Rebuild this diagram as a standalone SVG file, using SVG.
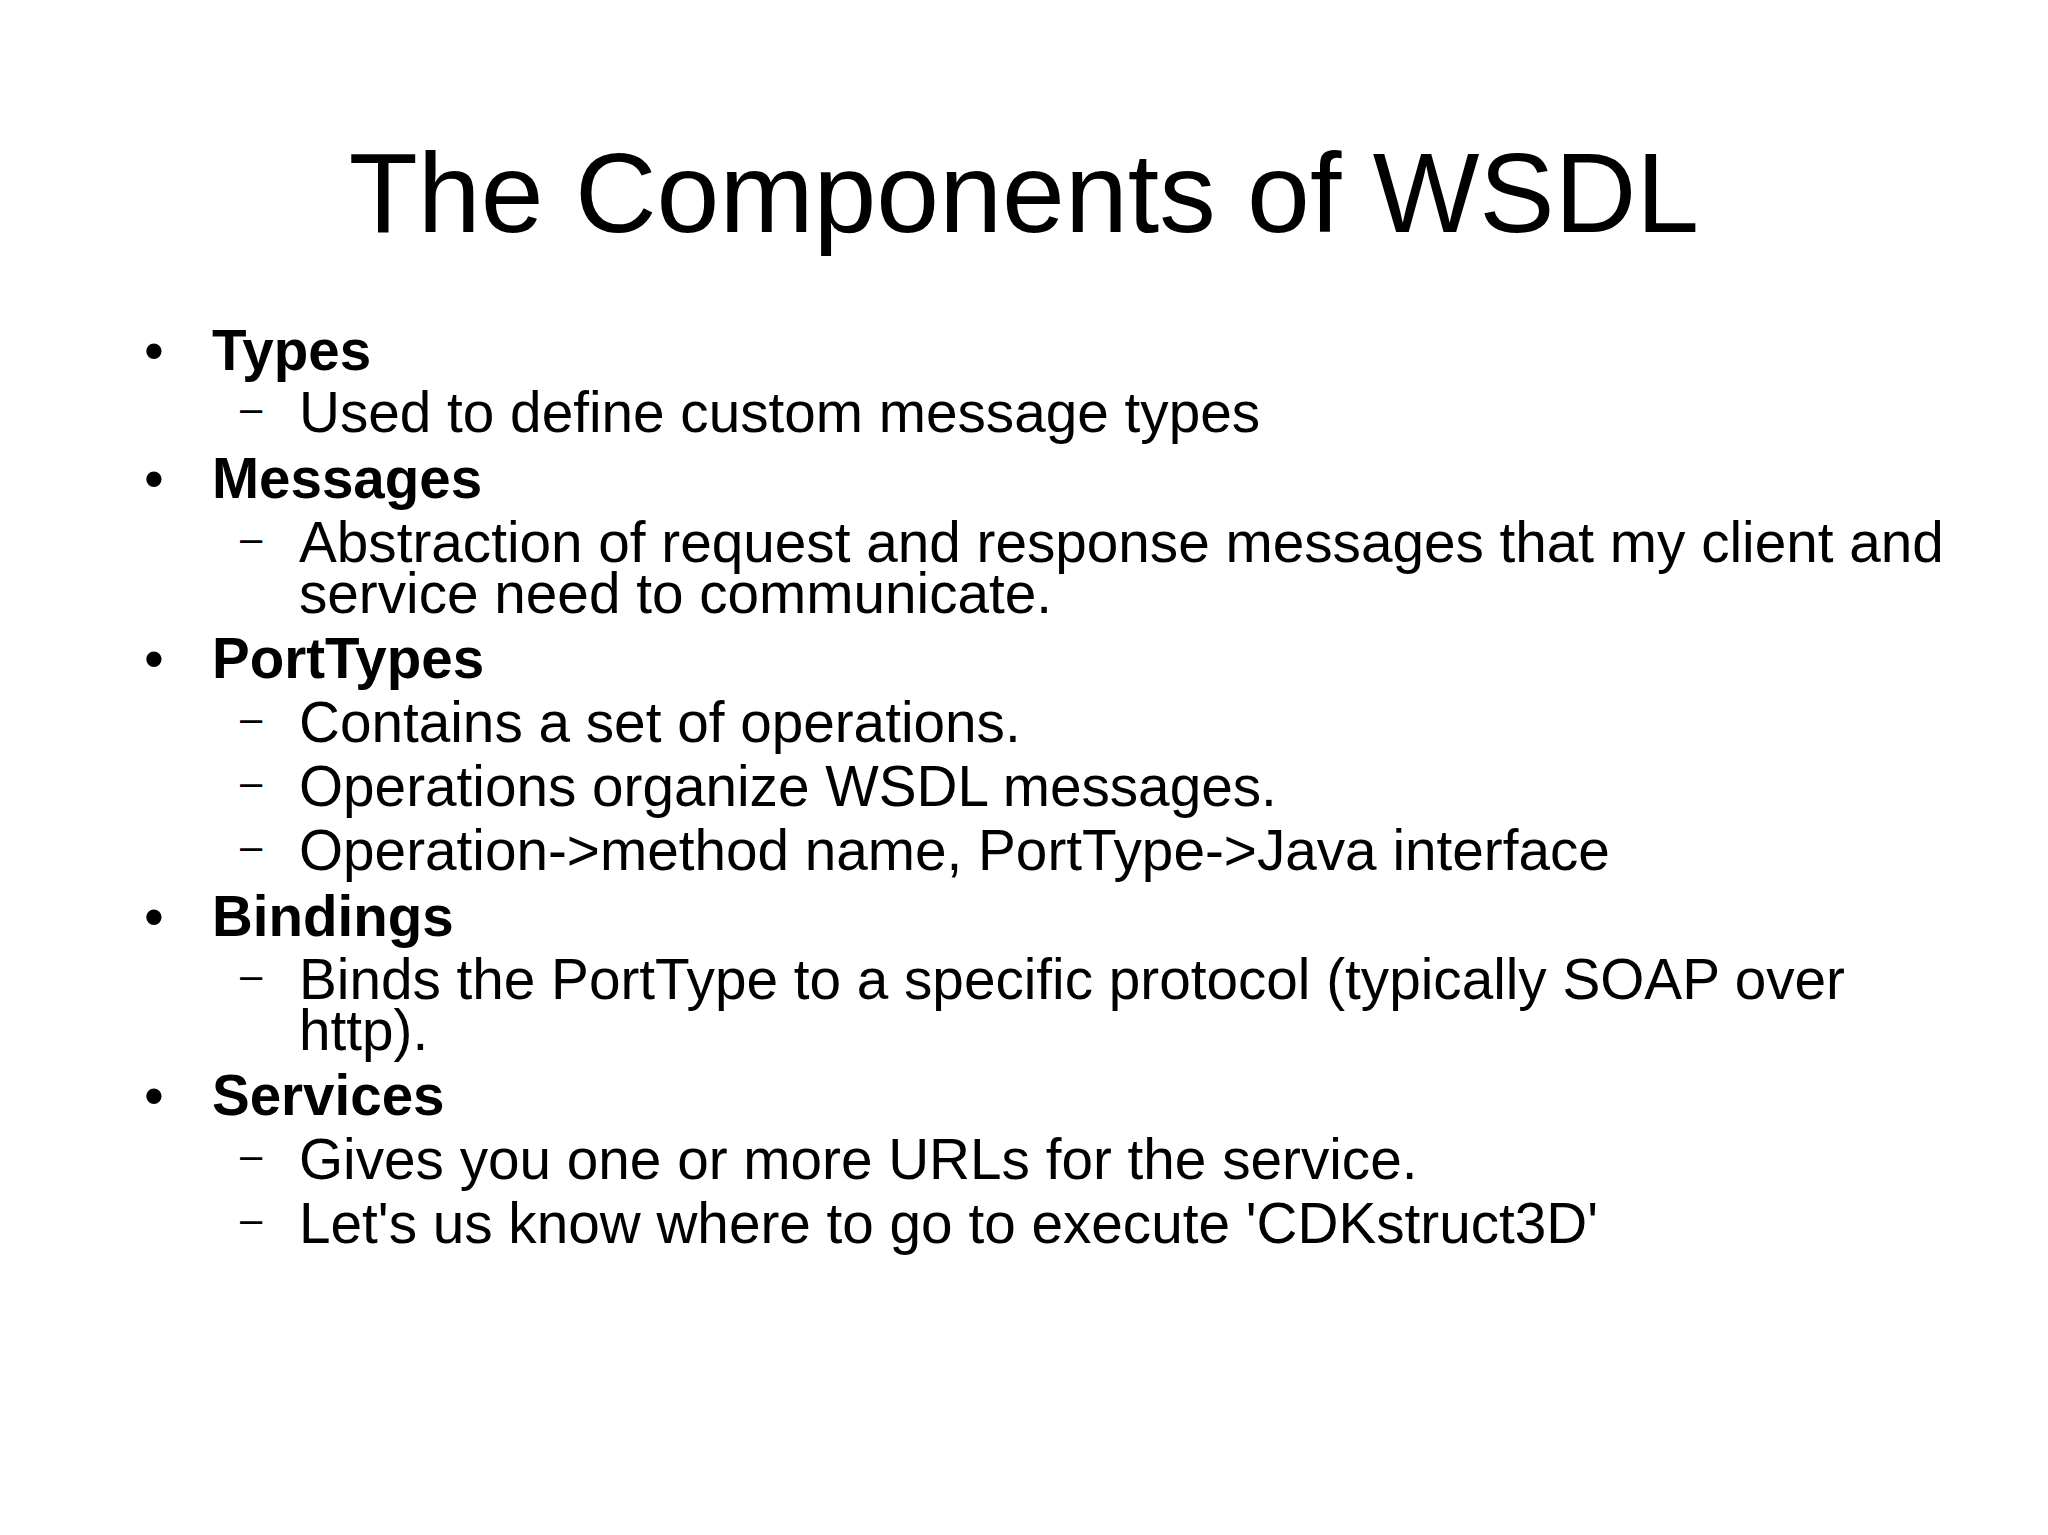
<svg xmlns="http://www.w3.org/2000/svg" width="2048" height="1535" viewBox="0 0 2048 1535">
<style>
text{font-family:"Liberation Sans",Arial,sans-serif;fill:#000}
.t{font-size:113px}
.b{font-size:56.5px;font-weight:bold}
.s{font-size:56.7px}
.d{font-size:40px}
</style>
<rect width="2048" height="1535" fill="#fff"/>
<g id="title"><text class="t" x="1024" y="232" text-anchor="middle">The Components of WSDL</text></g>
<g id="body">
<g class="s">
<text x="144" y="370">•</text><text class="b" x="212" y="370">Types</text>
<text class="d" x="240" y="422">–</text><text class="s" x="299" y="432">Used to define custom message types</text>
<text x="144" y="498">•</text><text class="b" x="212" y="498">Messages</text>
<text class="d" x="240" y="552">–</text><text class="s" x="299" y="562">Abstraction of request and response messages that my client and</text>
<text class="s" x="299" y="613">service need to communicate.</text>
<text x="144" y="678">•</text><text class="b" x="212" y="678">PortTypes</text>
<text class="d" x="240" y="732">–</text><text class="s" x="299" y="742">Contains a set of operations.</text>
<text class="d" x="240" y="796">–</text><text class="s" x="299" y="806">Operations organize WSDL messages.</text>
<text class="d" x="240" y="860">–</text><text class="s" x="299" y="870">Operation-&gt;method name, PortType-&gt;Java interface</text>
<text x="144" y="936">•</text><text class="b" x="212" y="936">Bindings</text>
<text class="d" x="240" y="989">–</text><text class="s" x="299" y="999">Binds the PortType to a specific protocol (typically SOAP over</text>
<text class="s" x="299" y="1050">http).</text>
<text x="144" y="1115">•</text><text class="b" x="212" y="1115">Services</text>
<text class="d" x="240" y="1169">–</text><text class="s" x="299" y="1179">Gives you one or more URLs for the service.</text>
<text class="d" x="240" y="1233">–</text><text class="s" x="299" y="1243">Let's us know where to go to execute 'CDKstruct3D'</text>
</g>
</g>
</svg>
